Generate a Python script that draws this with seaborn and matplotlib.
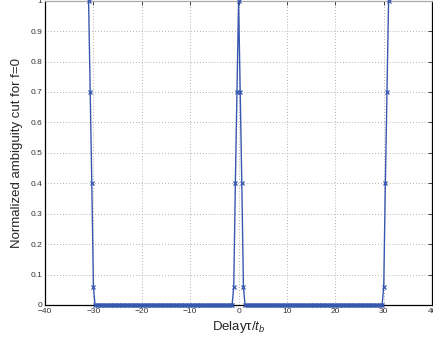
import numpy as np
import pandas as pd
import seaborn as sns
import matplotlib
import matplotlib.pyplot as plt

matplotlib.use("Agg")

# sampled delay axis (step 1/3 of a bit)
delay = np.arange(-93, 94) / 3.0

# peak shapes
left_peak = [1.0, 0.7, 0.4, 0.06]            # delays -31 .. -30
centre_peak = [0.06, 0.4, 0.7, 1.0, 0.7, 0.4, 0.06]   # delays -1 .. 1
right_peak = [0.06, 0.4, 0.7, 1.0]           # delays 30 .. 31

ambiguity = (left_peak + [0.0] * 86 + centre_peak
             + [0.0] * 86 + right_peak)

xticks = [-40, -30, -20, -10, 0, 10, 20, 30, 40]
yticks = [0, 0.1, 0.2, 0.3, 0.4, 0.5, 0.6, 0.7, 0.8, 0.9, 1]


def main():
    sns.set_style("white")
    plt.rcParams["font.family"] = ["Liberation Sans", "DejaVu Sans"]
    plt.rcParams["mathtext.fontset"] = "custom"
    plt.rcParams["mathtext.it"] = "Liberation Sans:italic"
    plt.rcParams["mathtext.rm"] = "Liberation Sans"

    df = pd.DataFrame({"delay": delay, "amb": ambiguity})

    fig = plt.figure(figsize=(4.33, 3.45), dpi=100)
    ax = fig.add_axes([0.104, 0.116, 0.894, 0.882])

    sns.lineplot(data=df, x="delay", y="amb", ax=ax, color="#3858b0",
                 marker="x", markersize=3.5, markeredgewidth=0.9,
                 linewidth=1.0, markeredgecolor="#3858b0",
                 clip_on=False, zorder=5)

    ax.set_xlim(-40, 40)
    ax.set_ylim(0, 1)
    ax.set_xticks(xticks)
    ax.set_yticks(yticks)
    ax.set_yticklabels(["0", "0.1", "0.2", "0.3", "0.4", "0.5", "0.6",
                        "0.7", "0.8", "0.9", "1"])
    ax.tick_params(direction="in", length=3, width=0.6, labelsize=6,
                   top=True, right=True, pad=2, labelcolor="#333333")
    ax.grid(True, linestyle=(0, (1, 2.5)), color="#999999", linewidth=0.6)
    for s in ax.spines.values():
        s.set_linewidth(0.9)
        s.set_color("black")
    ax.spines["top"].set_color("#aaaaaa")

    ax.set_xlabel("Delayτ/$t_b$", fontsize=9.5, labelpad=3)
    ax.set_ylabel("Normalized ambiguity cut for f=0", fontsize=9.5,
                  labelpad=5)

    fig.savefig("out.png", dpi=100)


if __name__ == "__main__":
    main()
